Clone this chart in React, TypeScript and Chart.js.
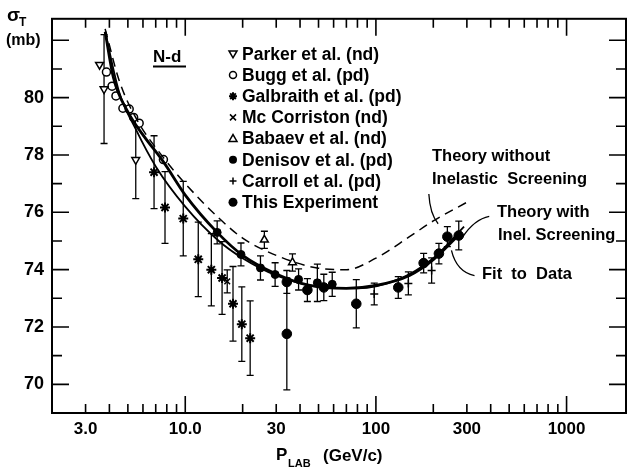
import React, { useEffect, useRef } from 'react';
import { Chart, registerables } from 'chart.js';
Chart.register(...registerables);

// ---------- data ----------
const parkerX = [3.75, 3.55, 5.5];
const parkerY = [80.3, 81.15, 77.83];
const parkerErr = [1.9, 0, 1.35];

const buggX = [3.86, 4.13, 4.33, 4.71, 5.08, 5.36, 5.73, 7.68];
const buggY = [80.89, 80.4, 80.06, 79.63, 79.6, 79.31, 79.11, 77.84];

const galbX = [6.86, 7.83, 9.76, 11.7, 13.7, 15.6, 17.8, 19.8, 21.9];
const galbY = [77.4, 76.17, 75.78, 74.36, 74.0, 73.71, 72.81, 72.1, 71.61];
const galbErr = [1.27, 1.25, 1.3, 1.3, 1.26, 1.27, 1.3, 1.3, 1.3];

const mccX = [16.6];
const mccY = [73.59];
const mccErr = [0.4];

const babX = [26.0, 36.5];
const babY = [75.04, 74.25];
const babErr = [0.3, 0.3];

const denX = [14.7, 19.6, 24.8, 29.6, 39.3, 49.3, 59.0];
const denY = [75.3, 74.53, 74.06, 73.83, 73.66, 73.54, 73.49];
const denErr = [0.4, 0.4, 0.42, 0.41, 0.37, 0.65, 0.42];

const carX = [98, 148, 196];
const carY = [73.15, 73.52, 73.97];
const carErr = [0.38, 0.4, 0.44];

const expX = [34.1, 34.1, 43.7, 53.3, 78.9, 131, 178, 214, 237, 272];
const expY = [71.76, 73.57, 73.29, 73.38, 72.81, 73.38, 74.23, 74.56, 75.15, 75.19];
const expErr = [1.95, 0.4, 0.4, 0.46, 0.84, 0.38, 0.34, 0.36, 0.35, 0.5];

// curves (control points)
const fitX = [3.8, 4.2, 5.0, 6.0, 7.7, 10, 14.7, 20, 30, 45, 70, 100, 150, 200, 280];
const fitY = [82.3, 80.7, 79.5, 78.7, 77.75, 76.6, 75.3, 74.5, 73.85, 73.45, 73.35, 73.45, 73.8, 74.35, 75.3];

const withX = [3.8, 4.5, 5.5, 7.0, 10, 15, 20, 30, 50, 80, 130, 200, 290];
const withY = [82.3, 80.2, 78.9, 77.6, 76.2, 75.0, 74.4, 73.8, 73.4, 73.35, 73.65, 74.4, 75.5];

const woX = [3.8, 4.5, 5.5, 7.7, 10, 15, 20, 30, 50, 70, 100, 150, 200, 300];
const woY = [82.4, 80.6, 79.3, 77.9, 77.0, 75.8, 75.1, 74.5, 74.05, 74.0, 74.4, 75.15, 75.7, 76.35];

const xTickVals = [3, 10, 30, 100, 300, 1000];
const xTickLabels = ['3.0', '10.0', '30', '100', '300', '1000'];
const yTickVals = [70, 72, 74, 76, 78, 80];

const legendLabels = [
  'Parker et al. (nd)',
  'Bugg et al. (pd)',
  'Galbraith et al. (pd)',
  'Mc Corriston (nd)',
  'Babaev et al. (nd)',
  'Denisov et al. (pd)',
  'Carroll et al. (pd)',
  'This Experiment',
];
const legendStyles = ['tri-down', 'circle-open', 'star', 'x', 'tri-up', 'dot', 'plus', 'dot-big'];

const FONT = '"Liberation Sans", Arial, sans-serif';

const pts = (xs: number[], ys: number[]) => xs.map((x, i) => ({ x, y: ys[i] }));

function drawSymbol(ctx: CanvasRenderingContext2D, kind: string, x: number, y: number) {
  ctx.save();
  ctx.strokeStyle = '#000';
  ctx.fillStyle = '#000';
  ctx.lineWidth = 1.5;
  const r = 4;
  ctx.beginPath();
  if (kind === 'tri-down') {
    ctx.moveTo(x - r, y - r * 0.7);
    ctx.lineTo(x + r, y - r * 0.7);
    ctx.lineTo(x, y + r);
    ctx.closePath();
    ctx.stroke();
  } else if (kind === 'tri-up') {
    ctx.moveTo(x - r, y + r * 0.7);
    ctx.lineTo(x + r, y + r * 0.7);
    ctx.lineTo(x, y - r);
    ctx.closePath();
    ctx.stroke();
  } else if (kind === 'circle-open') {
    ctx.arc(x, y, 3.5, 0, Math.PI * 2);
    ctx.stroke();
  } else if (kind === 'star') {
    ctx.lineWidth = 2;
    for (let k = 0; k < 4; k++) {
      const a = (k * Math.PI) / 4;
      ctx.moveTo(x - Math.cos(a) * 4, y - Math.sin(a) * 4);
      ctx.lineTo(x + Math.cos(a) * 4, y + Math.sin(a) * 4);
    }
    ctx.stroke();
  } else if (kind === 'x') {
    ctx.moveTo(x - 3, y - 3);
    ctx.lineTo(x + 3, y + 3);
    ctx.moveTo(x + 3, y - 3);
    ctx.lineTo(x - 3, y + 3);
    ctx.stroke();
  } else if (kind === 'plus') {
    ctx.moveTo(x - 3.5, y);
    ctx.lineTo(x + 3.5, y);
    ctx.moveTo(x, y - 3.5);
    ctx.lineTo(x, y + 3.5);
    ctx.stroke();
  } else if (kind === 'dot') {
    ctx.arc(x, y, 4, 0, Math.PI * 2);
    ctx.fill();
  } else if (kind === 'dot-big') {
    ctx.arc(x, y, 4.5, 0, Math.PI * 2);
    ctx.fill();
  }
  ctx.restore();
}

const decorPlugin = {
  id: 'decor',
  beforeDatasetsDraw(chart: any) {
    const ctx: CanvasRenderingContext2D = chart.ctx;
    const xs = chart.scales.x;
    const ys = chart.scales.y;
    const area = chart.chartArea;
    ctx.save();
    ctx.beginPath();
    ctx.rect(area.left, area.top, area.right - area.left, area.bottom - area.top);
    ctx.clip();
    ctx.strokeStyle = '#000';
    ctx.lineWidth = 1.3;
    chart.data.datasets.forEach((ds: any) => {
      if (!ds.errs) return;
      ds.data.forEach((p: any, i: number) => {
        const e = ds.errs[i];
        if (!e) return;
        const px = xs.getPixelForValue(p.x);
        const y1 = ys.getPixelForValue(p.y + e);
        const y2 = ys.getPixelForValue(p.y - e);
        ctx.beginPath();
        ctx.moveTo(px, y1);
        ctx.lineTo(px, y2);
        ctx.moveTo(px - 3.5, y1);
        ctx.lineTo(px + 3.5, y1);
        ctx.moveTo(px - 3.5, y2);
        ctx.lineTo(px + 3.5, y2);
        ctx.stroke();
      });
    });
    ctx.restore();
  },
  afterDraw(chart: any) {
    const ctx: CanvasRenderingContext2D = chart.ctx;
    const xs = chart.scales.x;
    const ys = chart.scales.y;
    const { left, right, top, bottom } = chart.chartArea;
    ctx.save();
    ctx.strokeStyle = '#000';
    ctx.fillStyle = '#000';
    ctx.lineWidth = 2;
    ctx.strokeRect(left, top, right - left, bottom - top);

    // x ticks (inward, bottom and top)
    ctx.lineWidth = 1.6;
    ctx.beginPath();
    for (let k = 0; k <= 3; k++) {
      for (let m = 1; m <= 9; m++) {
        const v = m * Math.pow(10, k);
        if (v <= 2 || v >= 2000) continue;
        const px = xs.getPixelForValue(v);
        const len = m === 1 ? 17 : 9;
        ctx.moveTo(px, bottom);
        ctx.lineTo(px, bottom - len);
        ctx.moveTo(px, top);
        ctx.lineTo(px, top + len);
      }
    }
    // y ticks (inward, left and right)
    for (let v = 70; v <= 82; v++) {
      const py = ys.getPixelForValue(v);
      const len = v % 2 === 0 ? 17 : 10;
      ctx.moveTo(left, py);
      ctx.lineTo(left + len, py);
      ctx.moveTo(right, py);
      ctx.lineTo(right - len, py);
    }
    ctx.stroke();

    // axis titles
    ctx.textBaseline = 'alphabetic';
    ctx.textAlign = 'left';
    ctx.font = `bold 19px ${FONT}`;
    ctx.fillText('σ', 7, 21);
    ctx.font = `bold 12px ${FONT}`;
    ctx.fillText('T', 19, 26);
    ctx.font = `bold 16px ${FONT}`;
    ctx.fillText('(mb)', 6, 45);

    ctx.font = `bold 17px ${FONT}`;
    ctx.fillText('P', 276, 460);
    ctx.font = `bold 11px ${FONT}`;
    ctx.fillText('LAB', 288, 467);
    ctx.font = `bold 17px ${FONT}`;
    ctx.fillText('(GeV/c)', 323, 461);

    // N-d label
    ctx.font = `bold 17px ${FONT}`;
    ctx.fillText('N-d', 153, 62);
    ctx.lineWidth = 2;
    ctx.beginPath();
    ctx.moveTo(153, 66.5);
    ctx.lineTo(186, 66.5);
    ctx.stroke();

    // legend
    ctx.font = `bold 17.5px ${FONT}`;
    ctx.textBaseline = 'middle';
    legendLabels.forEach((lab, i) => {
      const y = top + 35 + i * 21.2;
      drawSymbol(ctx, legendStyles[i], 233, y);
      ctx.fillText(lab, 242, y + 1);
    });

    // curve annotations
    ctx.textBaseline = 'alphabetic';
    ctx.font = `bold 16.5px ${FONT}`;
    ctx.fillText('Theory without', 432, 161);
    ctx.fillText('Inelastic  Screening', 432, 184);
    ctx.fillText('Theory with', 497, 217);
    ctx.fillText('Inel. Screening', 498, 240);
    ctx.fillText('Fit  to  Data', 482, 279);

    const P = (x: number, y: number) => [xs.getPixelForValue(x), ys.getPixelForValue(y)];
    ctx.lineWidth = 1.3;
    const leaders = [
      [[189.5, 76.64], [192, 75.95], [212, 75.6]],
      [[393, 75.86], [329, 75.76], [285, 75.14]],
      [[329, 73.79], [265, 73.92], [249, 74.67]],
    ];
    leaders.forEach((l) => {
      const a = P(l[0][0], l[0][1]);
      const c = P(l[1][0], l[1][1]);
      const b = P(l[2][0], l[2][1]);
      ctx.beginPath();
      ctx.moveTo(a[0], a[1]);
      ctx.quadraticCurveTo(c[0], c[1], b[0], b[1]);
      ctx.stroke();
    });
    ctx.restore();
  },
};

export default function App() {
  const ref = useRef<HTMLCanvasElement | null>(null);
  useEffect(() => {
    document.body.style.margin = '0';
    const canvas = ref.current;
    if (!canvas) return;
    const open = { backgroundColor: '#fff', borderColor: '#000', borderWidth: 1.5 };
    const chart = new Chart(canvas, {
      type: 'scatter',
      data: {
        datasets: [
          { label: 'fit', data: pts(fitX, fitY), showLine: true, borderColor: '#000', borderWidth: 2.8, pointRadius: 0, cubicInterpolationMode: 'monotone' } as any,
          { label: 'with', data: pts(withX, withY), showLine: true, borderColor: '#000', borderWidth: 1.8, pointRadius: 0, cubicInterpolationMode: 'monotone' } as any,
          { label: 'without', data: pts(woX, woY), showLine: true, borderColor: '#000', borderWidth: 1.5, borderDash: [9, 6], pointRadius: 0, cubicInterpolationMode: 'monotone' } as any,
          { label: 'Parker', data: pts(parkerX, parkerY), errs: parkerErr, pointStyle: 'triangle', rotation: 180, pointRadius: 4.5, ...open } as any,
          { label: 'Bugg', data: pts(buggX, buggY), pointStyle: 'circle', pointRadius: 4, ...open } as any,
          { label: 'Galbraith', data: pts(galbX, galbY), errs: galbErr, pointStyle: 'star', pointRadius: 5, borderColor: '#000', borderWidth: 2, backgroundColor: '#000' } as any,
          { label: 'McCorriston', data: pts(mccX, mccY), errs: mccErr, pointStyle: 'crossRot', pointRadius: 4, borderColor: '#000', borderWidth: 1.5 } as any,
          { label: 'Babaev', data: pts(babX, babY), errs: babErr, pointStyle: 'triangle', pointRadius: 4.5, ...open } as any,
          { label: 'Denisov', data: pts(denX, denY), errs: denErr, pointStyle: 'circle', pointRadius: 4, backgroundColor: '#000', borderColor: '#000', borderWidth: 1 } as any,
          { label: 'Carroll', data: pts(carX, carY), errs: carErr, pointStyle: 'cross', pointRadius: 4, borderColor: '#000', borderWidth: 1.5 } as any,
          { label: 'This Experiment', data: pts(expX, expY), errs: expErr, pointStyle: 'circle', pointRadius: 4.8, backgroundColor: '#000', borderColor: '#000', borderWidth: 1 } as any,
        ],
      },
      options: {
        responsive: false,
        animation: false,
        events: [],
        layout: { padding: { top: 8, right: 0, left: 0, bottom: 0 } },
        plugins: { legend: { display: false }, tooltip: { enabled: false } },
        scales: {
          x: {
            type: 'logarithmic',
            min: 2,
            max: 2050,
            grid: { display: false, drawTicks: false },
            border: { display: false },
            afterBuildTicks: (s: any) => {
              s.ticks = xTickVals.map((v) => ({ value: v }));
            },
            afterFit: (s: any) => {
              s.height = 56;
            },
            ticks: {
              autoSkip: false,
              maxRotation: 0,
              padding: 6,
              color: '#000',
              font: { family: FONT, size: 17, weight: 'bold' },
              callback: (v: any) => {
                const i = xTickVals.indexOf(Number(v));
                return i >= 0 ? xTickLabels[i] : '';
              },
            },
          },
          y: {
            type: 'linear',
            min: 69,
            max: 82.75,
            grid: { display: false, drawTicks: false },
            border: { display: false },
            afterBuildTicks: (s: any) => {
              s.ticks = yTickVals.map((v) => ({ value: v }));
            },
            afterFit: (s: any) => {
              s.width = 52;
            },
            ticks: {
              padding: 8,
              color: '#000',
              font: { family: FONT, size: 18, weight: 'bold' },
              callback: (v: any) => String(v),
            },
          },
        },
      },
      plugins: [decorPlugin],
    } as any);
    return () => chart.destroy();
  }, []);
  return (
    <div style={{ width: 633, height: 469, background: '#fff' }}>
      <canvas ref={ref} width={633} height={469} style={{ display: 'block' }} />
    </div>
  );
}
